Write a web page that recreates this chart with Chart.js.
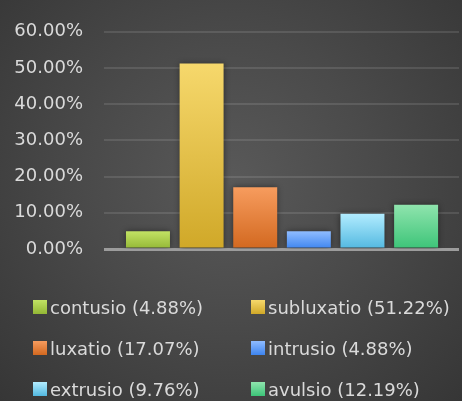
<!DOCTYPE html>
<html>
<head>
<meta charset="utf-8">
<script src="https://cdn.jsdelivr.net/npm/chart.js@4"></script>
<style>
  html, body { margin: 0; padding: 0; }
  body { width: 462px; height: 401px; overflow: hidden;
    background: radial-gradient(ellipse at 50% 45%, #595959 0%, #4a4a4a 45%, #363636 100%); }
  #wrap { position: relative; width: 462px; height: 401px; }
  #legend { position: absolute; left: 33px; top: 296px; display: grid;
    grid-template-columns: 218px 210px; row-gap: 19px;
    font-family: "DejaVu Sans", sans-serif; font-size: 18px; color: #dadada; }
  #legend div { display: flex; align-items: center; height: 22px; white-space: nowrap; }
  #legend span.box { width: 14px; height: 14px; margin-right: 3px; display: inline-block; }
</style>
</head>
<body>
<div id="wrap">
  <canvas id="barChart" width="462" height="401"></canvas>
  <div id="legend"></div>
</div>
<script>
let categorias = ["contusio", "subluxatio", "luxatio", "intrusio", "extrusio", "avulsio"];
let porcentajes = [4.88, 51.22, 17.07, 4.88, 9.76, 12.19];
let coloresArriba = ["#c2e264", "#f6d86c", "#f79c5e", "#8fbcff", "#b2ecff", "#8fe4ad"];
let coloresAbajo = ["#93b735", "#d0a828", "#d2681f", "#3d84ef", "#52b8e0", "#3cc478"];
let ticksY = [0, 10, 20, 30, 40, 50, 60];

function degradado(i) {
    return function (context) {
        let chart = context.chart;
        if (!chart.chartArea || !chart.scales.y) return coloresAbajo[i];
        let y = chart.scales.y;
        let top = y.getPixelForValue(porcentajes[i]);
        let bottom = y.getPixelForValue(0);
        let g = chart.ctx.createLinearGradient(0, top, 0, bottom);
        g.addColorStop(0, coloresArriba[i]);
        g.addColorStop(1, coloresAbajo[i]);
        return g;
    };
}

let datasets = categorias.map(function (c, i) {
    return {
        label: c + " (" + porcentajes[i].toFixed(2) + "%)",
        data: [{ x: i, y: porcentajes[i] }],
        backgroundColor: degradado(i),
        borderWidth: 0,
        grouped: false,
        barPercentage: 0.82,
        categoryPercentage: 1,
    };
});

let sombra = {
    id: "sombra",
    beforeDatasetsDraw(chart) {
        chart.ctx.save();
        chart.ctx.shadowColor = "rgba(0,0,0,0.45)";
        chart.ctx.shadowBlur = 6;
        chart.ctx.shadowOffsetX = 0;
        chart.ctx.shadowOffsetY = 0;
    },
    afterDatasetsDraw(chart) {
        chart.ctx.restore();
    },
};

let ctx = document.getElementById("barChart").getContext("2d");
let myChart = new Chart(ctx, {
    type: "bar",
    data: { datasets: datasets },
    plugins: [sombra],
    options: {
        responsive: false,
        animation: false,
        layout: { padding: { top: 22, bottom: 152, right: 3, left: 0 } },
        plugins: { legend: { display: false }, tooltip: { enabled: false } },
        scales: {
            x: {
                type: "linear",
                offset: false,
                min: -0.82,
                max: 5.8,
                display: false,
                afterBuildTicks(scale) { scale.ticks = categorias.map((c, i) => ({ value: i })); },
            },
            y: {
                min: 0,
                max: 60,
                afterFit(scale) { scale.width = 104; },
                afterBuildTicks(scale) { scale.ticks = ticksY.map(v => ({ value: v })); },
                border: { display: false },
                grid: {
                    drawTicks: false,
                    color: (c) => c.tick && c.tick.value === 0 ? "#9c9c9c" : "rgba(255,255,255,0.11)",
                    lineWidth: (c) => c.tick && c.tick.value === 0 ? 3 : 2,
                },
                ticks: {
                    padding: 21,
                    color: "#dadada",
                    font: { family: "DejaVu Sans", size: 18 },
                    callback: (v) => v.toFixed(2) + "%",
                },
            },
        },
    },
});

let legend = document.getElementById("legend");
categorias.forEach(function (c, i) {
    let item = document.createElement("div");
    let box = document.createElement("span");
    box.className = "box";
    box.style.background = "linear-gradient(" + coloresArriba[i] + "," + coloresAbajo[i] + ")";
    item.appendChild(box);
    item.appendChild(document.createTextNode(datasets[i].label));
    legend.appendChild(item);
});
</script>
</body>
</html>
